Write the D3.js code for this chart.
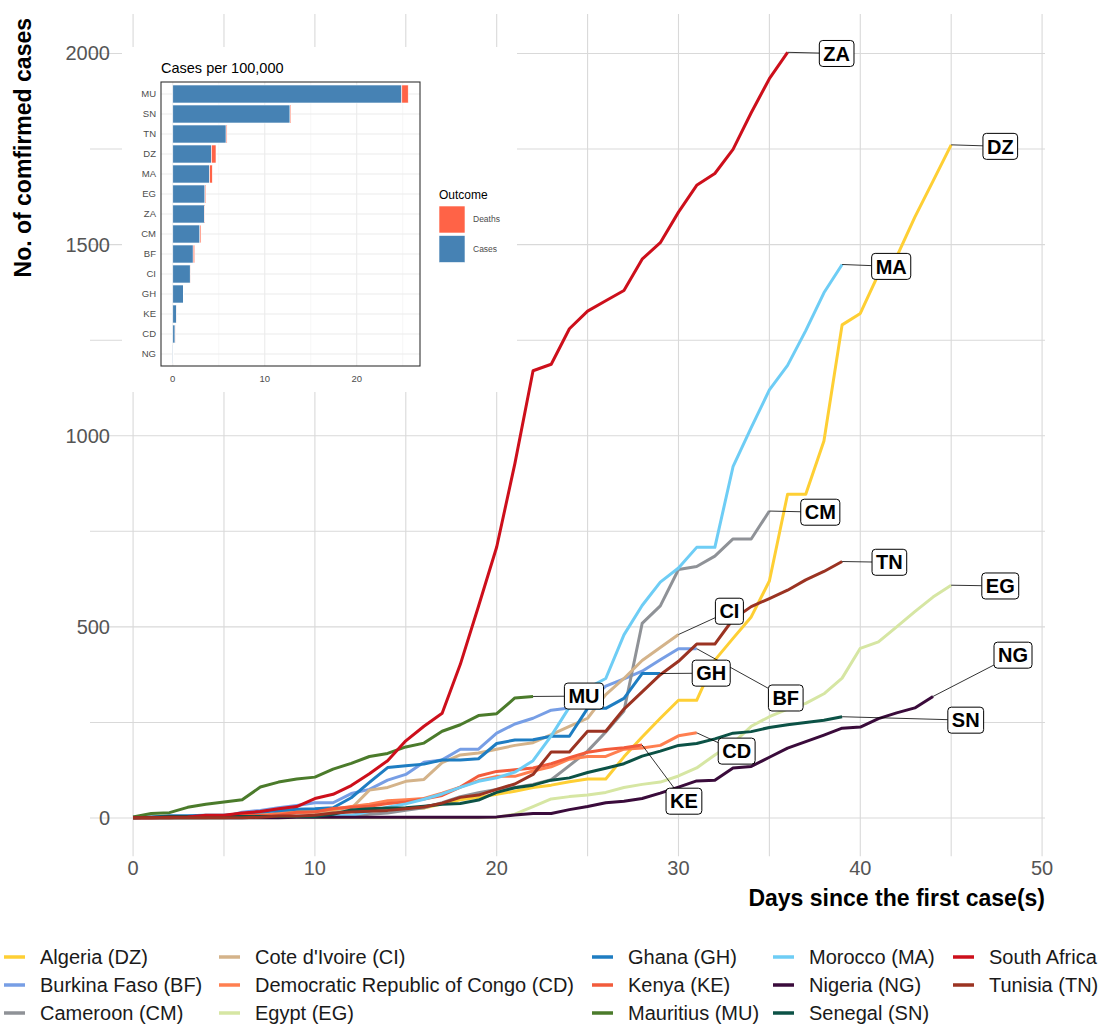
<!DOCTYPE html>
<html><head><meta charset="utf-8">
<script src="https://cdn.jsdelivr.net/npm/d3@7"></script>
<style>body{margin:0;background:#fff}svg{font-family:"Liberation Sans",Arial,sans-serif}</style>
</head><body>
<svg id="c" width="1101" height="1026"></svg>
<script>
// ---------- DATA ----------
const countries = ["Algeria (DZ)","Burkina Faso (BF)","Cameroon (CM)","Cote d'Ivoire (CI)","Democratic Republic of Congo (CD)","Egypt (EG)","Ghana (GH)","Kenya (KE)","Mauritius (MU)","Morocco (MA)","Nigeria (NG)","Senegal (SN)","South Africa (ZA)","Tunisia (TN)"];
const codes = ["DZ","BF","CM","CI","CD","EG","GH","KE","MU","MA","NG","SN","ZA","TN"];
const colors = ["#FECF34","#779EE5","#8F9297","#D4B38A","#FF7F50","#D6E6A3","#1E7DC2","#F25B3B","#4B7B2B","#6ECDF5","#3A0B3B","#0C5246","#CD0F1B","#9B3322"];

// cumulative confirmed cases, index = days since first case
const DZ = [1,1,1,1,1,1,3,5,12,17,17,19,20,20,20,24,26,37,48,54,62,70,80,86,95,102,102,160,212,261,308,308,413,470,526,620,847,847,986,1290,1320,1423,1468,1572,1666,1761];
const BF = [2,2,2,2,2,3,15,20,27,33,40,40,64,75,99,114,146,152,180,180,222,246,261,282,288,302,345,364,384,414,443,443];
const CM = [1,2,2,2,2,2,2,2,2,2,2,4,5,10,13,20,27,40,56,66,75,80,88,100,137,175,225,280,509,555,650,658,685,730,730,803];
const CI = [1,1,1,1,1,5,6,9,9,14,14,14,25,73,80,96,101,145,165,170,180,190,197,218,240,261,323,365,412,446,480];
const CD = [1,1,1,2,3,3,3,3,14,14,18,23,30,36,45,48,51,65,81,98,109,109,123,134,154,161,161,180,183,190,215,223];
const EG = [1,1,1,1,1,1,1,1,1,1,1,1,1,1,1,1,1,1,1,1,2,10,30,50,56,60,67,80,88,94,110,131,165,196,240,265,285,300,325,366,444,461,500,540,578,609];
const GH = [2,2,6,6,7,7,11,16,19,23,24,27,53,93,132,137,141,152,152,155,195,204,205,214,214,287,287,313,378,378];
const KE = [1,1,1,3,3,4,7,7,7,15,16,25,28,31,38,42,50,59,81,110,122,126,131,142,158,172,179,184,191];
const MU = [3,12,14,28,36,42,48,81,94,102,107,128,143,161,169,186,196,227,244,268,273,314,318];
const MA = [1,1,1,1,1,1,1,2,2,3,3,6,7,17,28,37,49,63,80,96,105,120,150,215,290,340,365,479,556,617,654,708,708,919,1021,1120,1184,1275,1374,1448];
const NG = [1,1,1,1,1,1,1,1,1,2,2,2,2,2,2,2,2,2,2,2,3,8,12,12,22,30,40,44,51,65,81,97,99,131,135,159,183,200,217,235,238,260,275,288,318];
const SN = [1,2,4,4,4,4,4,4,4,4,4,10,21,24,26,27,31,36,38,47,67,79,86,99,105,119,130,142,162,175,190,195,207,222,226,237,244,250,256,265];
const ZA = [1,1,2,3,7,7,13,17,24,30,51,62,85,116,150,202,240,274,402,554,709,927,1170,1187,1280,1326,1353,1380,1462,1505,1585,1655,1686,1749,1845,1934,2003];
const TN = [1,1,1,1,1,1,1,2,5,5,7,13,16,18,20,24,29,39,54,60,75,89,114,173,173,227,227,285,330,375,410,455,455,520,553,574,596,623,645,671];
const seriesValues = [DZ,BF,CM,CI,CD,EG,GH,KE,MU,MA,NG,SN,ZA,TN];

// repelled label positions (data units: day, cases)
const labelDay = [47.7,35.9,37.8,32.8,33.2,47.7,31.8,30.3,24.8,41.7,48.4,45.8,38.7,41.6];
const labelVal = [1757,314,800,541,175,607,379,44,319,1443,426,256,2000,669];

const xTicks = [0,10,20,30,40,50];
const yTicks = [0,500,1000,1500,2000];

// inset: cases & deaths per 100,000
const insetCodes = ["MU","SN","TN","DZ","MA","EG","ZA","CM","BF","CI","GH","KE","CD","NG"];
const insetCases = [24.9,12.75,5.8,4.2,4.0,3.5,3.45,2.95,2.22,1.9,1.17,0.4,0.25,0.1];
const insetDeaths = [0.7,0.1,0.1,0.5,0.3,0.1,0.05,0.12,0.17,0.02,0.03,0.01,0.02,0.01];
const insetTicks = [0,10,20];
const outcomeLabels = ["Deaths","Cases"];
const outcomeColors = ["#FF6347","#4682B4"];

// ---------- CHART ----------
const svg = d3.select("#c");
svg.append("rect").attr("width",1101).attr("height",1026).attr("fill","#fff");
const x = d3.scaleLinear().domain([-2.37,50.16]).range([90,1045]);
const y = d3.scaleLinear().domain([-100,2103]).range([856.25,14.1]);
const [px0,px1] = x.range(), [py0,py1] = y.range();

const grid = svg.append("g").attr("stroke","#D9D9D9").attr("stroke-width",1.1);
d3.range(0,51,5).forEach(v=>grid.append("line").attr("x1",x(v)).attr("x2",x(v)).attr("y1",py1).attr("y2",py0));
d3.range(0,2001,250).forEach(v=>grid.append("line").attr("x1",px0).attr("x2",px1).attr("y1",y(v)).attr("y2",y(v)));

// axes text
svg.append("g").selectAll("text").data(yTicks).join("text")
  .attr("x",110).attr("y",d=>y(d)).attr("dy","0.35em").attr("text-anchor","end")
  .attr("font-size",20).attr("fill","#555").text(d=>d);
svg.append("g").selectAll("text").data(xTicks).join("text")
  .attr("x",d=>x(d)).attr("y",868).attr("dy","0.35em").attr("text-anchor","middle")
  .attr("font-size",20).attr("fill","#555").text(d=>d);
svg.append("text").attr("x",1045).attr("y",906).attr("text-anchor","end")
  .attr("font-size",23).attr("font-weight","bold").attr("fill","#000").text("Days since the first case(s)");
svg.append("text").attr("transform","translate(31,18) rotate(-90)").attr("text-anchor","end")
  .attr("font-size",23).attr("font-weight","bold").attr("fill","#000").text("No. of comfirmed cases");

// lines
const line = d3.line().x((d,i)=>x(i)).y(d=>y(d));
const lg = svg.append("g").attr("fill","none").attr("stroke-width",3).attr("stroke-linejoin","round").attr("stroke-linecap","butt");
seriesValues.forEach((vals,k)=>{
  lg.append("path").attr("d",line(vals)).attr("stroke",colors[k]);
});

// inset (drawn over the plot)
const inset = svg.append("g");
inset.append("rect").attr("x",122).attr("y",47).attr("width",395).attr("height",345).attr("fill","#fff");
const ix = d3.scaleLinear().domain([-1.28,26.88]).range([161,420]);
const iy = d3.scaleBand().domain(insetCodes).range([82,366]).paddingInner(0).paddingOuter(0.1);
const st = iy.step();
const ig = inset.append("g");
[5,15,25].forEach(v=>ig.append("line").attr("x1",ix(v)).attr("x2",ix(v)).attr("y1",82).attr("y2",366).attr("stroke","#F2F2F2").attr("stroke-width",0.6));
insetTicks.forEach(v=>ig.append("line").attr("x1",ix(v)).attr("x2",ix(v)).attr("y1",82).attr("y2",366).attr("stroke","#EBEBEB").attr("stroke-width",1.1));
insetCodes.forEach(c=>ig.append("line").attr("x1",161).attr("x2",420).attr("y1",iy(c)+st/2).attr("y2",iy(c)+st/2).attr("stroke","#EBEBEB").attr("stroke-width",1.1));
const bars = inset.append("g").attr("stroke","#fff").attr("stroke-width",0.6);
insetCodes.forEach((c,i)=>{
  bars.append("rect").attr("x",ix(0)).attr("width",ix(insetCases[i])-ix(0))
    .attr("y",iy(c)+0.05*st).attr("height",0.9*st).attr("fill",outcomeColors[1]);
  bars.append("rect").attr("x",ix(insetCases[i])).attr("width",ix(insetCases[i]+insetDeaths[i])-ix(insetCases[i]))
    .attr("y",iy(c)+0.05*st).attr("height",0.9*st).attr("fill",outcomeColors[0]);
});
inset.append("rect").attr("x",161).attr("y",82).attr("width",259).attr("height",284).attr("fill","none").attr("stroke","#333").attr("stroke-width",1.1);
inset.append("g").selectAll("text").data(insetCodes).join("text")
  .attr("x",156).attr("y",d=>iy(d)+st/2).attr("dy","0.35em").attr("text-anchor","end")
  .attr("font-size",9.5).attr("fill","#4D4D4D").text(d=>d);
inset.append("g").selectAll("text").data(insetTicks).join("text")
  .attr("x",d=>ix(d)).attr("y",379).attr("dy","0.35em").attr("text-anchor","middle")
  .attr("font-size",9.5).attr("fill","#4D4D4D").text(d=>d);
inset.append("text").attr("x",161).attr("y",73).attr("font-size",14.5).attr("fill","#000").text("Cases per 100,000");
inset.append("text").attr("x",439).attr("y",199).attr("font-size",12).attr("fill","#000").text("Outcome");
outcomeLabels.forEach((t,i)=>{
  inset.append("rect").attr("x",439).attr("y",206+i*29.5).attr("width",26).attr("height",27).attr("fill",outcomeColors[i]).attr("stroke","#fff").attr("stroke-width",0.6);
  inset.append("text").attr("x",473).attr("y",219.5+i*29.5).attr("dy","0.35em").attr("font-size",8.5).attr("fill","#4D4D4D").text(t);
});

// repel labels
const lab = svg.append("g");
codes.forEach((c,k)=>{
  const vals = seriesValues[k];
  const ex = x(vals.length-1), ey = y(vals[vals.length-1]);
  const cx = x(labelDay[k]), cy = y(labelVal[k]);
  const g = lab.append("g");
  const t = g.append("text").attr("x",cx).attr("y",cy).attr("dy","0.36em").attr("text-anchor","middle")
    .attr("font-size",20).attr("font-weight","bold").attr("fill","#000").text(c);
  const w = t.node().getComputedTextLength() + 8, h = 26;
  const bx0 = cx-w/2, bx1 = cx+w/2, by0 = cy-h/2, by1 = cy+h/2;
  // intersection of segment point->center with box border
  const dx = cx-ex, dy = cy-ey;
  let tt = 1;
  if (dx!==0){ const tx = ((dx>0?bx0:bx1)-ex)/dx; if(tx>=0&&tx<=1){const yy=ey+tx*dy; if(yy>=by0-0.01&&yy<=by1+0.01) tt=Math.min(tt,tx);} }
  if (dy!==0){ const ty = ((dy>0?by0:by1)-ey)/dy; if(ty>=0&&ty<=1){const xx=ex+ty*dx; if(xx>=bx0-0.01&&xx<=bx1+0.01) tt=Math.min(tt,ty);} }
  g.insert("line","text").attr("x1",ex).attr("y1",ey).attr("x2",ex+tt*dx).attr("y2",ey+tt*dy).attr("stroke","#000").attr("stroke-width",0.8);
  g.insert("rect","text").attr("x",bx0).attr("y",by0).attr("width",w).attr("height",h).attr("rx",3.5)
    .attr("fill","#fff").attr("stroke","#000").attr("stroke-width",1);
});

// legend
const legX = [4,219,592,773,953];
const legY = [957,985,1013];
const leg = svg.append("g");
countries.forEach((name,k)=>{
  const col = Math.floor(k/3), row = k%3;
  leg.append("line").attr("x1",legX[col]).attr("x2",legX[col]+21).attr("y1",legY[row]).attr("y2",legY[row])
    .attr("stroke",colors[k]).attr("stroke-width",3.5);
  leg.append("text").attr("x",legX[col]+36).attr("y",legY[row]).attr("dy","0.35em")
    .attr("font-size",20).attr("fill","#1a1a1a").text(name);
});
</script>
</body></html>
